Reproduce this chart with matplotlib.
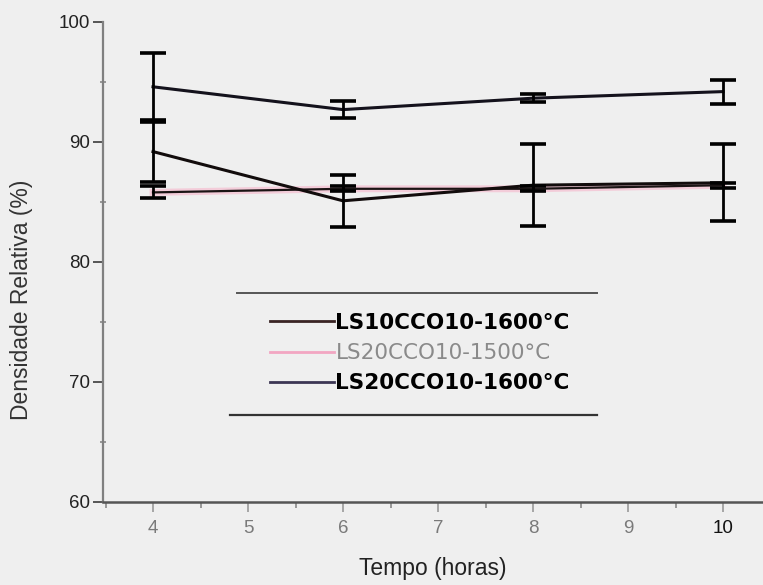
import matplotlib.pyplot as plt
from matplotlib.ticker import MultipleLocator

####### Data #######
hours = [4, 6, 8, 10]

ls10_1600 = [89.2, 85.1, 86.4, 86.6]
ls10_1600_err = [2.5, 2.15, 3.4, 3.2]

ls20_1500 = [85.8, 86.1, 86.1, 86.4]
ls20_1500_err = [0.5, 0.2, 0.2, 0.2]

ls20_1600 = [94.6, 92.7, 93.65, 94.2]
ls20_1600_err = [2.8, 0.7, 0.35, 1.0]

labels = ["LS10CCO10-1600°C", "LS20CCO10-1500°C", "LS20CCO10-1600°C"]
xaxis_label = "Tempo (horas)"
yaxis_label = "Densidade Relativa (%)"
figure_filename = "out.png"
####################

bg = "#efefef"
plt.rcParams["font.family"] = ["Liberation Sans", "DejaVu Sans"]

fig = plt.figure(figsize=(7.63, 5.85), dpi=100, facecolor=bg)
ax = fig.add_axes([103 / 763, 83 / 585, 660 / 763, 480 / 585], facecolor=bg)

eb = dict(fmt="none", ecolor="black", elinewidth=2, capsize=9.5, capthick=2.6, zorder=4)

# pink series: light halo under a dark line
ax.plot(hours, ls20_1500, color="#f6b6cb", lw=5, alpha=0.6, zorder=2)
ax.plot(hours, ls20_1500, color="#1a1414", lw=1.6, zorder=3)
ax.errorbar(hours, ls20_1500, yerr=ls20_1500_err, **eb)

ax.plot(hours, ls10_1600, color="#120c0c", lw=2.2, zorder=3)
ax.errorbar(hours, ls10_1600, yerr=ls10_1600_err, **eb)

ax.plot(hours, ls20_1600, color="#14121c", lw=2.2, zorder=3)
ax.errorbar(hours, ls20_1600, yerr=ls20_1600_err, **eb)

# legend handles only
h1, = ax.plot([], [], color="#3a2424", lw=2)
h2, = ax.plot([], [], color="#f2a6c2", lw=2)
h3, = ax.plot([], [], color="#3c3654", lw=2)
leg = ax.legend([h1, h2, h3], labels, loc="upper left",
                bbox_to_anchor=((259 - 103) / 660, 1 - (302 - 22) / 480), frameon=False,
                handlelength=3.0, handletextpad=0.05, labelspacing=0.48,
                borderpad=0, prop={"family": "DejaVu Sans", "size": 15.5})
texts = leg.get_texts()
texts[0].set_fontweight("bold")
texts[2].set_fontweight("bold")
texts[1].set_color("#8a8a8a")

# top and bottom rules of the legend box
ax.plot([(237 - 103) / 660, (597 - 103) / 660], [1 - (293 - 22) / 480] * 2,
        transform=ax.transAxes, color="#555555", lw=1.4, clip_on=False)
ax.plot([(230 - 103) / 660, (597 - 103) / 660], [1 - (415 - 22) / 480] * 2,
        transform=ax.transAxes, color="#333333", lw=1.6, clip_on=False)

## Axes
ax.set_xlim(4 - 50 / 95, 10 + 40 / 95)
ax.set_ylim(60, 100)
ax.set_xticks([4, 5, 6, 7, 8, 9, 10])
ax.xaxis.set_minor_locator(MultipleLocator(0.5))
ax.set_yticks([60, 70, 80, 90, 100])
ax.yaxis.set_minor_locator(MultipleLocator(5))

for s in ["top", "right"]:
    ax.spines[s].set_visible(False)
ax.spines["left"].set_color("#808080")
ax.spines["left"].set_linewidth(1.6)
ax.spines["bottom"].set_color("#555555")
ax.spines["bottom"].set_linewidth(1.8)

ax.tick_params(axis="x", which="major", direction="out", length=7, width=1.2,
               color="#999999", labelsize=13.5, labelcolor="#7a7a7a", pad=6)
ax.tick_params(axis="x", which="minor", direction="out", length=4, width=1.2,
               color="#888888")
ax.tick_params(axis="y", which="major", direction="out", length=7, width=1.4,
               color="#555555", labelsize=13.5, labelcolor="#222222", pad=2)
ax.tick_params(axis="y", which="minor", direction="inout", length=4, width=1.2,
               color="#888888")
ax.get_xticklabels()[-1].set_color("#111111")

ax.set_xlabel(xaxis_label, fontsize=16.5, color="#222222", labelpad=14)
ax.set_ylabel(yaxis_label, fontsize=16.5, color="#333333")
ax.yaxis.set_label_coords((33 - 103) / 660, 1 - (300 - 22) / 480)

plt.savefig(figure_filename, dpi=100, facecolor=bg)
